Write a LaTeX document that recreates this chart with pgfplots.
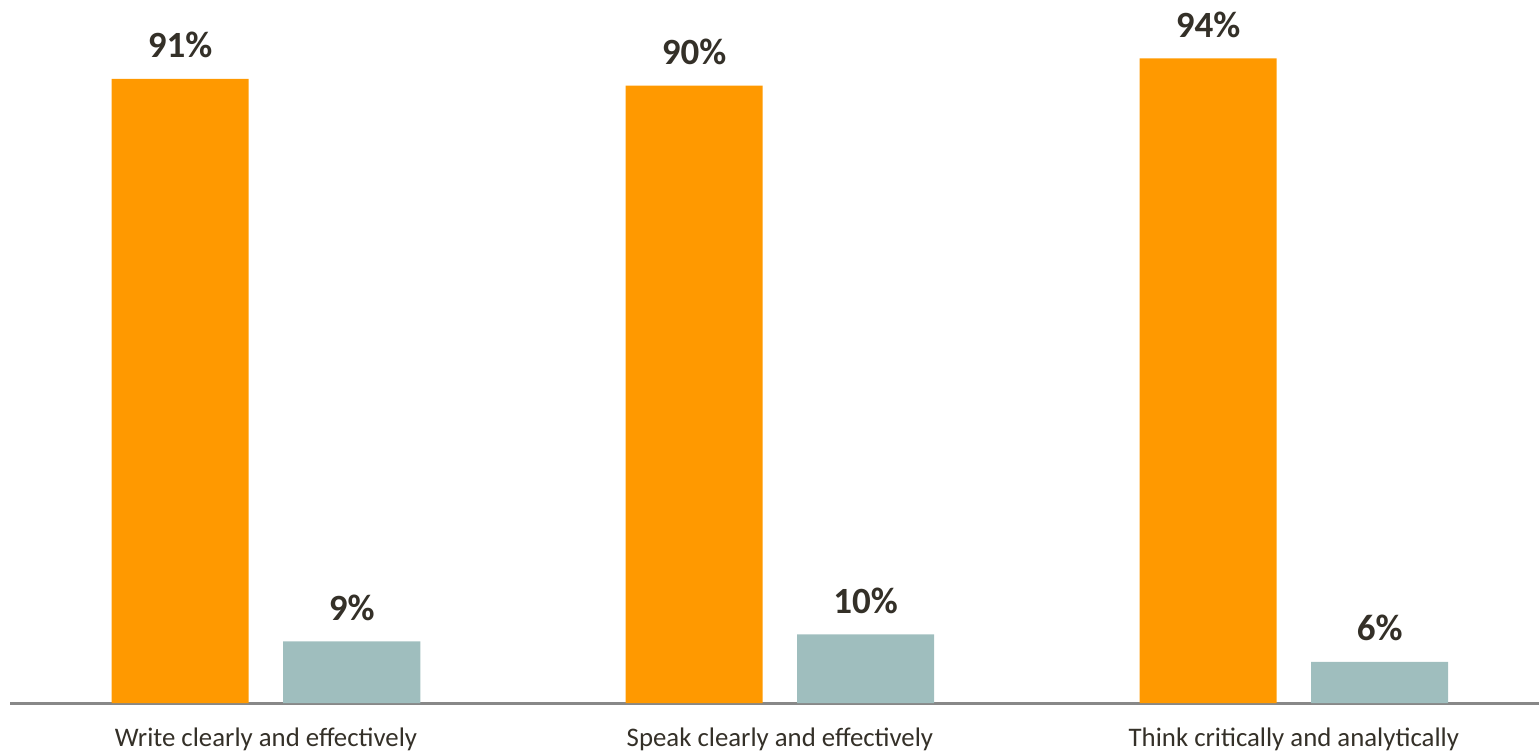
\documentclass[border=0pt]{standalone}
\usepackage{pgfplots}
\pgfplotsset{compat=1.18}
\usepackage{fontspec}
\setmainfont{Carlito}
\definecolor{barorange}{RGB}{255,153,0}
\definecolor{barteal}{RGB}{159,190,190}
\definecolor{txtdark}{RGB}{52,48,40}
\definecolor{axisgray}{RGB}{136,136,136}
\begin{document}
\begin{tikzpicture}
\path[use as bounding box] (-5pt,-24.5pt) rectangle (764.5pt,351.5pt);
\begin{axis}[
  scale only axis,
  width=764.5pt, height=351.5pt,
  xmin=-0.498, xmax=2.477,
  ymin=0, ymax=102.5,
  axis x line=bottom,
  axis y line=none,
  x axis line style={draw=axisgray, line width=1.5pt, -},
  xtick={0,1,2},
  xticklabels={Write clearly and effectively, Speak clearly and effectively, Think critically and analytically},
  major tick length=0pt,
  xticklabel style={anchor=base, yshift=-21.5pt, font=\fontsize{13.4}{16}\selectfont, text=txtdark},
  ybar,
  bar width=68.5pt,
  point meta=explicit symbolic,
  nodes near coords,
  nodes near coords style={anchor=base, yshift=10.5pt, font=\fontsize{18.5}{22}\selectfont\bfseries, text=txtdark},
  clip=false,
]
\addplot[fill=barorange, draw=none, bar shift=-42.9pt] coordinates {(0,91) [91\%] (1,90) [90\%] (2,94) [94\%]};
\addplot[fill=barteal, draw=none, bar shift=42.9pt] coordinates {(0,9) [9\%] (1,10) [10\%] (2,6) [6\%]};
\end{axis}
\end{tikzpicture}
\end{document}
